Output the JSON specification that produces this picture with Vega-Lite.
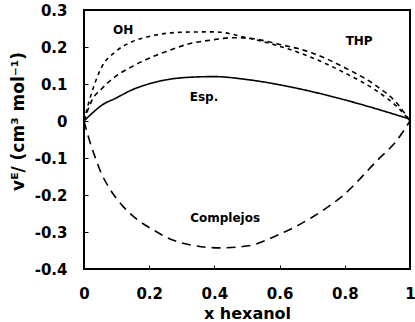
{
  "$schema": "https://vega.github.io/schema/vega-lite/v6.json",
  "width": 326,
  "height": 259,
  "autosize": {"type": "none"},
  "padding": {"left": 84, "top": 10, "right": 5, "bottom": 53},
  "background": "white",
  "config": {
    "view": {"stroke": "black", "strokeWidth": 2},
    "font": "DejaVu Sans",
    "axis": {
      "domain": false,
      "grid": false,
      "tickColor": "black",
      "tickSize": -4,
      "tickWidth": 1,
      "labelFont": "DejaVu Sans",
      "labelFontWeight": "bold",
      "labelFontSize": 15,
      "labelColor": "black",
      "titleFont": "DejaVu Sans",
      "titleFontWeight": "bold",
      "titleFontSize": 16,
      "titleColor": "black"
    }
  },
  "datasets": {
    "curves": [
      {"serie": "OH", "x": 0, "v": 0},
      {"serie": "OH", "x": 0.014, "v": 0.048},
      {"serie": "OH", "x": 0.035, "v": 0.106},
      {"serie": "OH", "x": 0.055, "v": 0.147},
      {"serie": "OH", "x": 0.096, "v": 0.187},
      {"serie": "OH", "x": 0.147, "v": 0.214},
      {"serie": "OH", "x": 0.198, "v": 0.228},
      {"serie": "OH", "x": 0.3, "v": 0.24},
      {"serie": "OH", "x": 0.4, "v": 0.241},
      {"serie": "OH", "x": 0.5, "v": 0.225},
      {"serie": "OH", "x": 0.6, "v": 0.202},
      {"serie": "OH", "x": 0.7, "v": 0.171},
      {"serie": "OH", "x": 0.8, "v": 0.13},
      {"serie": "OH", "x": 0.9, "v": 0.08},
      {"serie": "OH", "x": 0.96, "v": 0.039},
      {"serie": "OH", "x": 1, "v": 0},
      {"serie": "THP", "x": 0, "v": 0},
      {"serie": "THP", "x": 0.025, "v": 0.057},
      {"serie": "THP", "x": 0.055, "v": 0.088},
      {"serie": "THP", "x": 0.096, "v": 0.12},
      {"serie": "THP", "x": 0.147, "v": 0.147},
      {"serie": "THP", "x": 0.198, "v": 0.169},
      {"serie": "THP", "x": 0.25, "v": 0.187},
      {"serie": "THP", "x": 0.32, "v": 0.208},
      {"serie": "THP", "x": 0.4, "v": 0.22},
      {"serie": "THP", "x": 0.45, "v": 0.225},
      {"serie": "THP", "x": 0.5, "v": 0.224},
      {"serie": "THP", "x": 0.6, "v": 0.207},
      {"serie": "THP", "x": 0.7, "v": 0.184},
      {"serie": "THP", "x": 0.8, "v": 0.144},
      {"serie": "THP", "x": 0.9, "v": 0.093},
      {"serie": "THP", "x": 0.96, "v": 0.048},
      {"serie": "THP", "x": 1, "v": 0},
      {"serie": "Esp.", "x": 0, "v": 0},
      {"serie": "Esp.", "x": 0.025, "v": 0.021},
      {"serie": "Esp.", "x": 0.055, "v": 0.043},
      {"serie": "Esp.", "x": 0.096, "v": 0.061},
      {"serie": "Esp.", "x": 0.147, "v": 0.084},
      {"serie": "Esp.", "x": 0.198, "v": 0.1},
      {"serie": "Esp.", "x": 0.25, "v": 0.111},
      {"serie": "Esp.", "x": 0.32, "v": 0.118},
      {"serie": "Esp.", "x": 0.4, "v": 0.12},
      {"serie": "Esp.", "x": 0.5, "v": 0.112},
      {"serie": "Esp.", "x": 0.65, "v": 0.089},
      {"serie": "Esp.", "x": 0.8, "v": 0.057},
      {"serie": "Esp.", "x": 0.96, "v": 0.016},
      {"serie": "Esp.", "x": 1, "v": 0.005},
      {"serie": "Complejos", "x": 0, "v": 0},
      {"serie": "Complejos", "x": 0.019, "v": -0.059},
      {"serie": "Complejos", "x": 0.035, "v": -0.1},
      {"serie": "Complejos", "x": 0.05, "v": -0.135},
      {"serie": "Complejos", "x": 0.081, "v": -0.186},
      {"serie": "Complejos", "x": 0.117, "v": -0.228},
      {"serie": "Complejos", "x": 0.157, "v": -0.262},
      {"serie": "Complejos", "x": 0.214, "v": -0.295},
      {"serie": "Complejos", "x": 0.27, "v": -0.321},
      {"serie": "Complejos", "x": 0.321, "v": -0.334},
      {"serie": "Complejos", "x": 0.417, "v": -0.343},
      {"serie": "Complejos", "x": 0.5, "v": -0.338},
      {"serie": "Complejos", "x": 0.6, "v": -0.306},
      {"serie": "Complejos", "x": 0.7, "v": -0.26},
      {"serie": "Complejos", "x": 0.8, "v": -0.197},
      {"serie": "Complejos", "x": 0.9, "v": -0.106},
      {"serie": "Complejos", "x": 0.96, "v": -0.052},
      {"serie": "Complejos", "x": 1, "v": 0}
    ],
    "labels": [
      {"text": "OH", "x": 0.12, "v": 0.246},
      {"text": "THP", "x": 0.844, "v": 0.216},
      {"text": "Esp.", "x": 0.368, "v": 0.064},
      {"text": "Complejos", "x": 0.433, "v": -0.262}
    ]
  },
  "encoding": {
    "x": {
      "field": "x",
      "type": "quantitative",
      "scale": {"domain": [0, 1], "nice": false, "zero": false},
      "axis": {
        "values": [0, 0.2, 0.4, 0.6, 0.8, 1],
        "labelExpr": "datum.value == 0 ? '0' : datum.value == 1 ? '1' : format(datum.value, '.1f')",
        "labelOverlap": false,
        "labelFlush": false,
        "labelPadding": 21,
        "title": "x hexanol",
        "titleY": 44,
        "titleBaseline": "middle"
      }
    },
    "y": {
      "field": "v",
      "type": "quantitative",
      "scale": {"domain": [-0.4, 0.3], "nice": false, "zero": false},
      "axis": {
        "values": [-0.4, -0.3, -0.2, -0.1, 0, 0.1, 0.2, 0.3],
        "labelExpr": "datum.value == 0 ? '0' : (datum.value < 0 ? '-' + format(-datum.value, '.1f') : format(datum.value, '.1f'))",
        "labelOverlap": false,
        "labelFlush": false,
        "labelBound": false,
        "labelPadding": 21,
        "title": "vᴱ/ (cm³ mol⁻¹)",
        "titleFontSize": 17,
        "titleAngle": -90,
        "titleX": -66,
        "titleY": 111,
        "titleAlign": "center",
        "titleBaseline": "middle"
      }
    }
  },
  "layer": [
    {
      "data": {"name": "curves"},
      "mark": {"type": "line", "interpolate": "monotone", "color": "black", "clip": true},
      "encoding": {
        "detail": {"field": "serie"},
        "strokeDash": {
          "field": "serie",
          "type": "nominal",
          "scale": {
            "domain": ["OH", "THP", "Esp.", "Complejos"],
            "range": [[4, 4], [5, 4], [1, 0], [9, 6]]
          },
          "legend": null
        },
        "strokeWidth": {
          "field": "serie",
          "type": "nominal",
          "scale": {
            "domain": ["OH", "THP", "Esp.", "Complejos"],
            "range": [1.6, 1.6, 2.2, 1.5]
          },
          "legend": null
        }
      }
    },
    {
      "data": {"name": "labels"},
      "mark": {"type": "text", "font": "DejaVu Sans", "fontWeight": "bold", "fontSize": 12, "color": "black", "align": "center", "baseline": "middle"},
      "encoding": {
        "text": {"field": "text"}
      }
    }
  ]
}
